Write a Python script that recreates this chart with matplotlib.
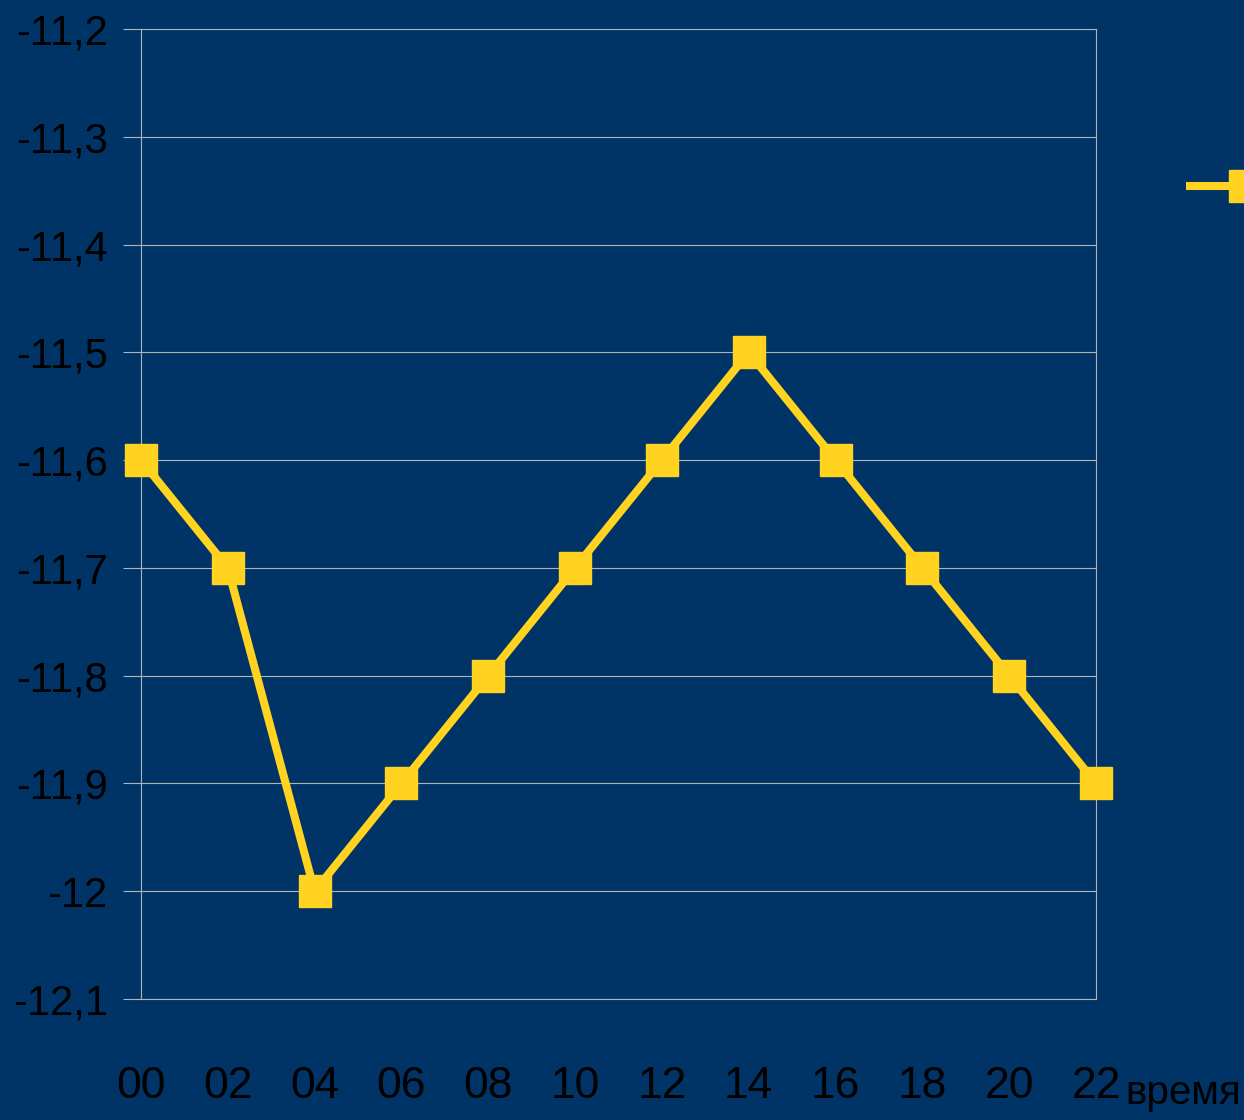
import matplotlib
matplotlib.use("Agg")
import matplotlib.pyplot as plt
from matplotlib.ticker import FuncFormatter

hours = ["00", "02", "04", "06", "08", "10", "12", "14", "16", "18", "20", "22"]
temp = [-11.6, -11.7, -12.0, -11.9, -11.8, -11.7, -11.6, -11.5, -11.6, -11.7, -11.8, -11.9]
y_ticks = [-12.1, -12.0, -11.9, -11.8, -11.7, -11.6, -11.5, -11.4, -11.3, -11.2]

bg = "#003366"
yellow = "#FFD320"
grid = "#b3b3b3"
font = ["Liberation Sans", "DejaVu Sans"]

fig = plt.figure(figsize=(12.44, 11.2), dpi=100, facecolor=bg)
ax = fig.add_axes([141 / 1244, 1 - 999 / 1120, 955 / 1244, 970 / 1120])
ax.set_facecolor(bg)

x = list(range(len(hours)))
ax.plot(x, temp, color=yellow, lw=5.8, marker="s", ms=23, mec=yellow,
        mfc=yellow, clip_on=False, zorder=5, label=" ")

ax.set_xlim(0, len(hours) - 1)
ax.set_ylim(-12.1, -11.2)
ax.set_yticks(y_ticks)
ax.yaxis.set_major_formatter(FuncFormatter(lambda v, p: ("%g" % round(v, 1)).replace(".", ",")))
ax.grid(axis="y", color=grid, lw=0.8)
ax.set_axisbelow(True)

for s in ax.spines.values():
    s.set_color(grid)
    s.set_linewidth(0.8)

ax.tick_params(axis="y", length=13, width=0.8, color=grid, pad=11,
               labelsize=30, labelcolor="black")
ax.tick_params(axis="x", length=0, pad=48, labelsize=32, labelcolor="black")
ax.set_xticks(x)
ax.set_xticklabels(hours)
for lab in ax.get_xticklabels() + ax.get_yticklabels():
    lab.set_family(font)

fig.text(1125 / 1244, 1 - 1104 / 1120, "время", fontsize=29, family=font,
         color="black", va="baseline", ha="left")

ax.legend(loc="center left", bbox_to_anchor=(1190 / 1244, 1 - 189 / 1120),
          bbox_transform=fig.transFigure, frameon=False, borderpad=0,
          borderaxespad=0, fontsize=36, handlelength=2.2, numpoints=1)

fig.savefig("out.png", dpi=100, facecolor=bg)
